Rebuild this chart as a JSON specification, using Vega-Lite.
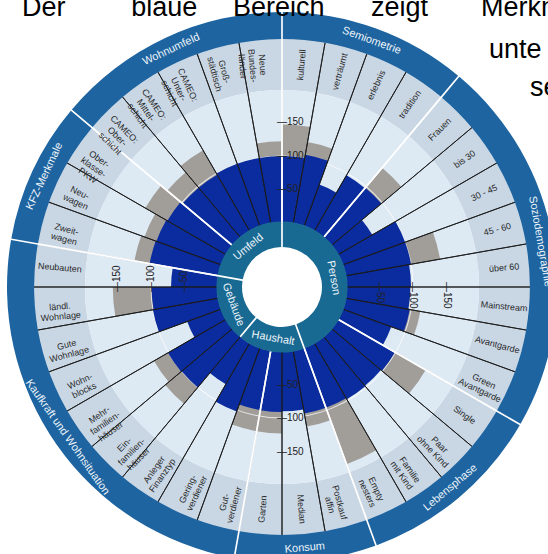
{
  "$schema": "https://vega.github.io/schema/vega-lite/v6.json",
  "width": 532,
  "height": 534,
  "autosize": "none",
  "padding": {"left": 16, "top": 20, "right": 0, "bottom": 0},
  "background": "white",
  "config": {"view": {"stroke": null}},
  "resolve": {"scale": {"angle": "independent"}},
  "datasets": {
    "items": [
      {"idx": 0, "item": "kulturell", "blue": 100, "grey": 147},
      {"idx": 1, "item": "verträumt", "blue": 105, "grey": 124},
      {"idx": 2, "item": "erlebnis", "blue": 67, "grey": 60},
      {"idx": 3, "item": "tradition", "blue": 97, "grey": 80},
      {"idx": 4, "item": "Frauen", "blue": 98, "grey": 137},
      {"idx": 5, "item": "bis 30", "blue": 60, "grey": 55},
      {"idx": 6, "item": "30 - 45", "blue": 100, "grey": 92},
      {"idx": 7, "item": "45 - 60", "blue": 100, "grey": 144},
      {"idx": 8, "item": "über 60", "blue": 97, "grey": 90},
      {"idx": 9, "item": "Mainstream", "blue": 96, "grey": 95},
      {"idx": 10, "item": "Avantgarde", "blue": 98, "grey": 114},
      {"idx": 11, "item": "Green\nAvantgarde", "blue": 78, "grey": 70},
      {"idx": 12, "item": "Single", "blue": 99, "grey": 152},
      {"idx": 13, "item": "Paar\nohne Kind", "blue": 97, "grey": 95},
      {"idx": 14, "item": "Familie\nmit Kind", "blue": 98, "grey": 90},
      {"idx": 15, "item": "Empty\nnesters", "blue": 96, "grey": 186},
      {"idx": 16, "item": "Postkauf\naffin", "blue": 96, "grey": 116},
      {"idx": 17, "item": "Median", "blue": 90, "grey": 85},
      {"idx": 18, "item": "Garten", "blue": 91, "grey": 123},
      {"idx": 19, "item": "Gut-\nverdiener", "blue": 91, "grey": 123},
      {"idx": 20, "item": "Gering-\nverdiener", "blue": 102, "grey": 90},
      {"idx": 21, "item": "Anleger\nFinanztyp", "blue": 72, "grey": 65},
      {"idx": 22, "item": "Ein-\nfamilien-\nhäuser", "blue": 100, "grey": 132},
      {"idx": 23, "item": "Mehr-\nfamilien-\nhäuser", "blue": 101, "grey": 125},
      {"idx": 24, "item": "Wohn-\nblocks", "blue": 55, "grey": 50},
      {"idx": 25, "item": "Gute\nWohnlage", "blue": 100, "grey": 100},
      {"idx": 26, "item": "ländl.\nWohnlage", "blue": 99, "grey": 157},
      {"idx": 27, "item": "Neubauten", "blue": 70, "grey": 60},
      {"idx": 28, "item": "Zweit-\nwagen", "blue": 105, "grey": 128},
      {"idx": 29, "item": "Neu-\nwagen", "blue": 104, "grey": 123},
      {"idx": 30, "item": "Ober-\nklasse-\nPKW", "blue": 102, "grey": 140},
      {"idx": 31, "item": "CAMEO:\nOber-\nschicht", "blue": 98, "grey": 128},
      {"idx": 32, "item": "CAMEO:\nMittel-\nschicht", "blue": 98, "grey": 140},
      {"idx": 33, "item": "CAMEO:\nUnter-\nschicht", "blue": 100, "grey": 100},
      {"idx": 34, "item": "Groß-\nstädtisch", "blue": 100, "grey": 95},
      {"idx": 35, "item": "Neue\nBundes-\nländer", "blue": 100, "grey": 122}
    ],
    "groups": [
      {"gidx": 0, "name": "Semiometrie", "n": 4},
      {"gidx": 1, "name": "Soziodemographie", "n": 8},
      {"gidx": 2, "name": "Lebensphase", "n": 4},
      {"gidx": 3, "name": "Konsum", "n": 3},
      {"gidx": 4, "name": "Kaufkraft und Wohnsituation", "n": 9},
      {"gidx": 5, "name": "KFZ-Merkmale", "n": 3},
      {"gidx": 6, "name": "Wohnumfeld", "n": 5}
    ],
    "inner": [
      {"iidx": 0, "name": "Person", "n": 16},
      {"iidx": 1, "name": "Haushalt", "n": 6},
      {"iidx": 2, "name": "Gebäude", "n": 6},
      {"iidx": 3, "name": "Umfeld", "n": 8}
    ],
    "ticks": [
      {"v": 50, "t": "—50"},
      {"v": 100, "t": "—100"},
      {"v": 150, "t": "—150"}
    ]
  },
  "layer": [
    {
      "data": {"values": [{}]},
      "mark": {"type": "arc", "fill": "#c9d7e5"},
      "encoding": {
        "theta": {"datum": 0, "scale": {"domain": [0, 36], "range": [0, 6.283185307179586]}},
        "theta2": {"datum": 36},
        "radius": {"datum": 276.2, "scale": {"type": "linear", "domain": [-36, 315], "range": [40, 275], "zero": false, "nice": false}},
        "radius2": {"datum": 198.5}
      }
    },
    {
      "data": {"values": [{}]},
      "mark": {"type": "arc", "fill": "#dde9f3"},
      "encoding": {
        "theta": {"datum": 0, "scale": {"domain": [0, 36], "range": [0, 6.283185307179586]}},
        "theta2": {"datum": 36},
        "radius": {"datum": 198.5, "scale": {"type": "linear", "domain": [-36, 315], "range": [40, 275], "zero": false, "nice": false}},
        "radius2": {"datum": 0}
      }
    },
    {
      "data": {"name": "items"},
      "transform": [{"bin": {"step": 1, "extent": [0, 36]}, "field": "idx", "as": ["i0", "i1"]}],
      "mark": {"type": "arc", "fill": "#a19e9a"},
      "encoding": {
        "theta": {"field": "i0", "type": "quantitative", "stack": null, "scale": {"domain": [0, 36], "range": [0, 6.283185307179586]}},
        "theta2": {"field": "i1"},
        "radius": {"field": "grey", "type": "quantitative", "scale": {"type": "linear", "domain": [-36, 315], "range": [40, 275], "zero": false, "nice": false}},
        "radius2": {"datum": 0}
      }
    },
    {
      "data": {"values": [{}]},
      "mark": {"type": "arc", "fill": "white", "opacity": 0.75},
      "encoding": {
        "theta": {"datum": 0, "scale": {"domain": [0, 36], "range": [0, 6.283185307179586]}},
        "theta2": {"datum": 36},
        "radius": {"datum": 100.8, "scale": {"type": "linear", "domain": [-36, 315], "range": [40, 275], "zero": false, "nice": false}},
        "radius2": {"datum": 99.3}
      }
    },
    {
      "data": {"name": "items"},
      "transform": [{"bin": {"step": 1, "extent": [0, 36]}, "field": "idx", "as": ["i0", "i1"]}],
      "mark": {"type": "arc", "fill": "#0b2c9f"},
      "encoding": {
        "theta": {"field": "i0", "type": "quantitative", "stack": null, "scale": {"domain": [0, 36], "range": [0, 6.283185307179586]}},
        "theta2": {"field": "i1"},
        "radius": {"field": "blue", "type": "quantitative", "scale": {"type": "linear", "domain": [-36, 315], "range": [40, 275], "zero": false, "nice": false}},
        "radius2": {"datum": 0}
      }
    },
    {
      "data": {"name": "items"},
      "mark": {"type": "arc", "fill": "transparent", "stroke": "#1a1a1a", "strokeWidth": 0.9},
      "encoding": {
        "theta": {"aggregate": "count", "type": "quantitative", "stack": true, "scale": {"domain": [0, 36], "range": [0, 6.283185307179586]}},
        "order": {"field": "idx", "type": "quantitative"},
        "radius": {"datum": 276.2, "scale": {"type": "linear", "domain": [-36, 315], "range": [40, 275], "zero": false, "nice": false}},
        "radius2": {"datum": 0}
      }
    },
    {
      "data": {"name": "groups"},
      "mark": {"type": "arc", "fill": "transparent", "stroke": "white", "strokeWidth": 1.6},
      "encoding": {
        "theta": {"field": "n", "type": "quantitative", "stack": true, "scale": {"domain": [0, 36], "range": [0, 6.283185307179586]}},
        "order": {"field": "gidx", "type": "quantitative"},
        "radius": {"datum": 276.2, "scale": {"type": "linear", "domain": [-36, 315], "range": [40, 275], "zero": false, "nice": false}},
        "radius2": {"datum": 0}
      }
    },
    {
      "data": {"name": "inner"},
      "mark": {"type": "arc", "fill": "#186a92", "padAngle": 0.022},
      "encoding": {
        "theta": {"field": "n", "type": "quantitative", "stack": true, "scale": {"domain": [0, 36], "range": [0, 6.283185307179586]}},
        "order": {"field": "iidx", "type": "quantitative"},
        "radius": {"datum": 2.2, "scale": {"type": "linear", "domain": [-36, 315], "range": [40, 275], "zero": false, "nice": false}},
        "radius2": {"datum": -36}
      }
    },
    {
      "data": {"name": "groups"},
      "mark": {"type": "arc", "fill": "#1d64a0", "padAngle": 0.0045},
      "encoding": {
        "theta": {"field": "n", "type": "quantitative", "stack": true, "scale": {"domain": [0, 36], "range": [0, 6.283185307179586]}},
        "order": {"field": "gidx", "type": "quantitative"},
        "radius": {"datum": 315, "scale": {"type": "linear", "domain": [-36, 315], "range": [40, 275], "zero": false, "nice": false}},
        "radius2": {"datum": 274.5}
      }
    },
    {
      "data": {"name": "items"},
      "mark": {"type": "text", "font": "Liberation Sans", "fontSize": 9, "lineHeight": 10, "lineBreak": "\n", "fill": "#2a2a2a", "align": "center", "baseline": "middle"},
      "encoding": {
        "theta": {"aggregate": "count", "type": "quantitative", "stack": true, "scale": {"domain": [0, 36], "range": [0, 6.283185307179586]}},
        "order": {"field": "idx", "type": "quantitative"},
        "radius": {"datum": 237.3, "scale": {"type": "linear", "domain": [-36, 315], "range": [40, 275], "zero": false, "nice": false}},
        "text": {"field": "item", "type": "nominal"},
        "angle": {"field": "idx", "type": "quantitative", "scale": {"domain": [0, 17, 18, 35], "range": [-85, 85, -85, 85]}, "legend": null}
      }
    },
    {
      "data": {"name": "groups"},
      "mark": {"type": "text", "font": "Liberation Sans", "fontSize": 11, "fill": "#eef4fa", "align": "center", "baseline": "middle"},
      "encoding": {
        "theta": {"field": "n", "type": "quantitative", "stack": true, "scale": {"domain": [0, 36], "range": [0, 6.283185307179586]}},
        "order": {"field": "gidx", "type": "quantitative"},
        "radius": {"datum": 295.6, "scale": {"type": "linear", "domain": [-36, 315], "range": [40, 275], "zero": false, "nice": false}},
        "text": {"field": "name", "type": "nominal"},
        "angle": {"field": "gidx", "type": "quantitative", "scale": {"domain": [0, 1, 2, 3, 4, 5, 6], "range": [20, 80, -40, -5, 55, -65, -25]}, "legend": null}
      }
    },
    {
      "data": {"name": "inner"},
      "mark": {"type": "text", "font": "Liberation Sans", "fontSize": 11, "fill": "#eef4fa", "align": "center", "baseline": "middle"},
      "encoding": {
        "theta": {"field": "n", "type": "quantitative", "stack": true, "scale": {"domain": [0, 36], "range": [0, 6.283185307179586]}},
        "order": {"field": "iidx", "type": "quantitative"},
        "radius": {"datum": -18, "scale": {"type": "linear", "domain": [-36, 315], "range": [40, 275], "zero": false, "nice": false}},
        "text": {"field": "name", "type": "nominal"},
        "angle": {"field": "iidx", "type": "quantitative", "scale": {"domain": [0, 1, 2, 3], "range": [80, 10, 70, -40]}, "legend": null}
      }
    },
    {
      "data": {"name": "ticks"},
      "mark": {"type": "text", "font": "Liberation Sans", "fontSize": 10, "fill": "#222222", "align": "left", "baseline": "middle", "dx": -5, "angle": 0},
      "encoding": {
        "theta": {"datum": 0, "scale": {"domain": [0, 36], "range": [0, 6.283185307179586]}},
        "radius": {"field": "v", "type": "quantitative", "scale": {"type": "linear", "domain": [-36, 315], "range": [40, 275], "zero": false, "nice": false}},
        "text": {"field": "t", "type": "nominal"}
      }
    },
    {
      "data": {"name": "ticks"},
      "mark": {"type": "text", "font": "Liberation Sans", "fontSize": 10, "fill": "#222222", "align": "left", "baseline": "middle", "dx": -5, "angle": 90},
      "encoding": {
        "theta": {"datum": 9, "scale": {"domain": [0, 36], "range": [0, 6.283185307179586]}},
        "radius": {"field": "v", "type": "quantitative", "scale": {"type": "linear", "domain": [-36, 315], "range": [40, 275], "zero": false, "nice": false}},
        "text": {"field": "t", "type": "nominal"}
      }
    },
    {
      "data": {"name": "ticks"},
      "mark": {"type": "text", "font": "Liberation Sans", "fontSize": 10, "fill": "#222222", "align": "left", "baseline": "middle", "dx": -5, "angle": 0},
      "encoding": {
        "theta": {"datum": 18, "scale": {"domain": [0, 36], "range": [0, 6.283185307179586]}},
        "radius": {"field": "v", "type": "quantitative", "scale": {"type": "linear", "domain": [-36, 315], "range": [40, 275], "zero": false, "nice": false}},
        "text": {"field": "t", "type": "nominal"}
      }
    },
    {
      "data": {"name": "ticks"},
      "mark": {"type": "text", "font": "Liberation Sans", "fontSize": 10, "fill": "#222222", "align": "left", "baseline": "middle", "dx": -5, "angle": 270},
      "encoding": {
        "theta": {"datum": 27, "scale": {"domain": [0, 36], "range": [0, 6.283185307179586]}},
        "radius": {"field": "v", "type": "quantitative", "scale": {"type": "linear", "domain": [-36, 315], "range": [40, 275], "zero": false, "nice": false}},
        "text": {"field": "t", "type": "nominal"}
      }
    },
    {
      "data": {"values": [{"t": "Der"}]},
      "mark": {"type": "text", "font": "Liberation Sans", "fontSize": 27, "fill": "black", "align": "left", "baseline": "alphabetic"},
      "encoding": {
        "theta": {"datum": 31.62, "scale": {"domain": [0, 36], "range": [0, 6.283185307179586]}},
        "radius": {"datum": 465.3, "scale": {"type": "linear", "domain": [-36, 315], "range": [40, 275], "zero": false, "nice": false}},
        "text": {"field": "t", "type": "nominal"}
      }
    },
    {
      "data": {"values": [{"t": "blaue"}]},
      "mark": {"type": "text", "font": "Liberation Sans", "fontSize": 27, "fill": "black", "align": "left", "baseline": "alphabetic"},
      "encoding": {
        "theta": {"datum": 33.09, "scale": {"domain": [0, 36], "range": [0, 6.283185307179586]}},
        "radius": {"datum": 367.6, "scale": {"type": "linear", "domain": [-36, 315], "range": [40, 275], "zero": false, "nice": false}},
        "text": {"field": "t", "type": "nominal"}
      }
    },
    {
      "data": {"values": [{"t": "Bereich"}]},
      "mark": {"type": "text", "font": "Liberation Sans", "fontSize": 27, "fill": "black", "align": "left", "baseline": "alphabetic"},
      "encoding": {
        "theta": {"datum": 34.975, "scale": {"domain": [0, 36], "range": [0, 6.283185307179586]}},
        "radius": {"datum": 315.6, "scale": {"type": "linear", "domain": [-36, 315], "range": [40, 275], "zero": false, "nice": false}},
        "text": {"field": "t", "type": "nominal"}
      }
    },
    {
      "data": {"values": [{"t": "zeigt"}]},
      "mark": {"type": "text", "font": "Liberation Sans", "fontSize": 27, "fill": "black", "align": "left", "baseline": "alphabetic"},
      "encoding": {
        "theta": {"datum": 1.818, "scale": {"domain": [0, 36], "range": [0, 6.283185307179586]}},
        "radius": {"datum": 330.2, "scale": {"type": "linear", "domain": [-36, 315], "range": [40, 275], "zero": false, "nice": false}},
        "text": {"field": "t", "type": "nominal"}
      }
    },
    {
      "data": {"values": [{"t": "Merkm"}]},
      "mark": {"type": "text", "font": "Liberation Sans", "fontSize": 27, "fill": "black", "align": "left", "baseline": "alphabetic"},
      "encoding": {
        "theta": {"datum": 3.629, "scale": {"domain": [0, 36], "range": [0, 6.283185307179586]}},
        "radius": {"datum": 406.4, "scale": {"type": "linear", "domain": [-36, 315], "range": [40, 275], "zero": false, "nice": false}},
        "text": {"field": "t", "type": "nominal"}
      }
    },
    {
      "data": {"values": [{"t": "unte"}]},
      "mark": {"type": "text", "font": "Liberation Sans", "fontSize": 27, "fill": "black", "align": "left", "baseline": "alphabetic"},
      "encoding": {
        "theta": {"datum": 4.211, "scale": {"domain": [0, 36], "range": [0, 6.283185307179586]}},
        "radius": {"datum": 365.3, "scale": {"type": "linear", "domain": [-36, 315], "range": [40, 275], "zero": false, "nice": false}},
        "text": {"field": "t", "type": "nominal"}
      }
    },
    {
      "data": {"values": [{"t": "se"}]},
      "mark": {"type": "text", "font": "Liberation Sans", "fontSize": 27, "fill": "black", "align": "left", "baseline": "alphabetic"},
      "encoding": {
        "theta": {"datum": 5.24, "scale": {"domain": [0, 36], "range": [0, 6.283185307179586]}},
        "radius": {"datum": 371.8, "scale": {"type": "linear", "domain": [-36, 315], "range": [40, 275], "zero": false, "nice": false}},
        "text": {"field": "t", "type": "nominal"}
      }
    }
  ]
}
